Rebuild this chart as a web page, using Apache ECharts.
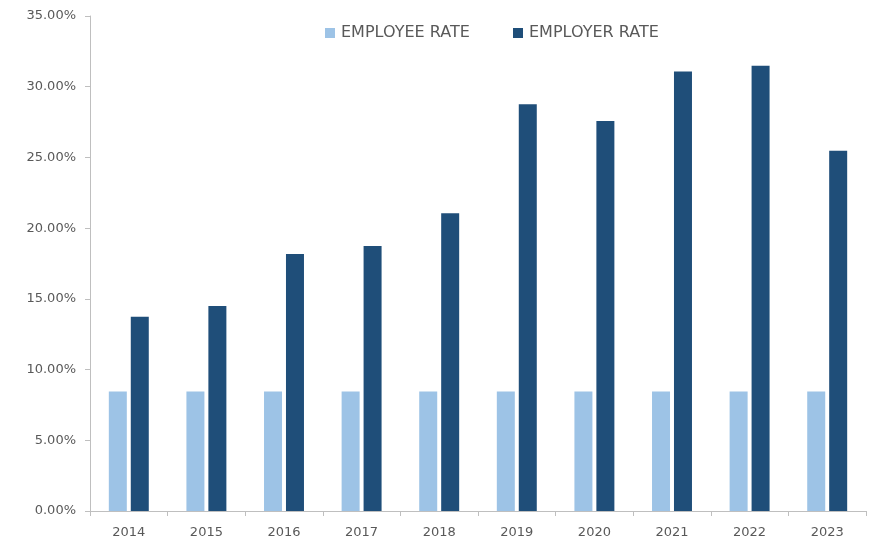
<!DOCTYPE html>
<html>
<head>
<meta charset="utf-8">
<script src="https://cdn.jsdelivr.net/npm/echarts@6/dist/echarts.min.js"></script>
<style>html,body{margin:0;padding:0;background:#fff;}#main{width:880px;height:539px;}</style>
</head>
<body>
<div id="main"></div>
<script>
var categories = ['2014','2015','2016','2017','2018','2019','2020','2021','2022','2023'];
var employeeRate = [8.45,8.45,8.45,8.45,8.45,8.45,8.45,8.45,8.45,8.45];
var employerRate = [13.74,14.5,18.17,18.74,21.05,28.76,27.58,31.07,31.49,25.48];
var yTicks = [0,5,10,15,20,25,30,35];

var chart = echarts.init(document.getElementById('main'));
var font = 'DejaVu Sans';
var legendBase = {
  top: 20,
  itemWidth: 10, itemHeight: 10,
  icon: 'rect',
  textStyle: {color: '#595959', fontSize: 16, fontFamily: font, padding: [0,0,0,1]}
};
chart.setOption({
  animation: false,
  backgroundColor: '#ffffff',
  grid: {left: 90, right: 14, top: 16, bottom: 27},
  legend: [
    Object.assign({left: 320, data: ['EMPLOYEE RATE']}, legendBase),
    Object.assign({left: 508, data: ['EMPLOYER RATE']}, legendBase)
  ],
  xAxis: {
    type: 'category',
    data: categories,
    axisLine: {lineStyle: {color: '#bfbfbf'}},
    axisTick: {show: true, alignWithLabel: false, length: 5, lineStyle: {color: '#bfbfbf'}},
    axisLabel: {color: '#595959', fontSize: 13, fontFamily: font, margin: 15}
  },
  yAxis: {
    type: 'value',
    min: yTicks[0], max: yTicks[yTicks.length-1], interval: 5,
    axisLine: {show: true, lineStyle: {color: '#bfbfbf'}},
    axisTick: {show: true, length: 5, lineStyle: {color: '#bfbfbf'}},
    splitLine: {show: false},
    axisLabel: {color: '#595959', fontSize: 13, fontFamily: font, margin: 14,
      formatter: function(v){ return v.toFixed(2) + '%'; }}
  },
  series: [
    {name: 'EMPLOYEE RATE', type: 'bar', data: employeeRate, barWidth: 18, barGap: '22%',
     itemStyle: {color: '#9DC3E6'}},
    {name: 'EMPLOYER RATE', type: 'bar', data: employerRate, barWidth: 18,
     itemStyle: {color: '#1F4E79'}}
  ]
});
</script>
</body>
</html>
